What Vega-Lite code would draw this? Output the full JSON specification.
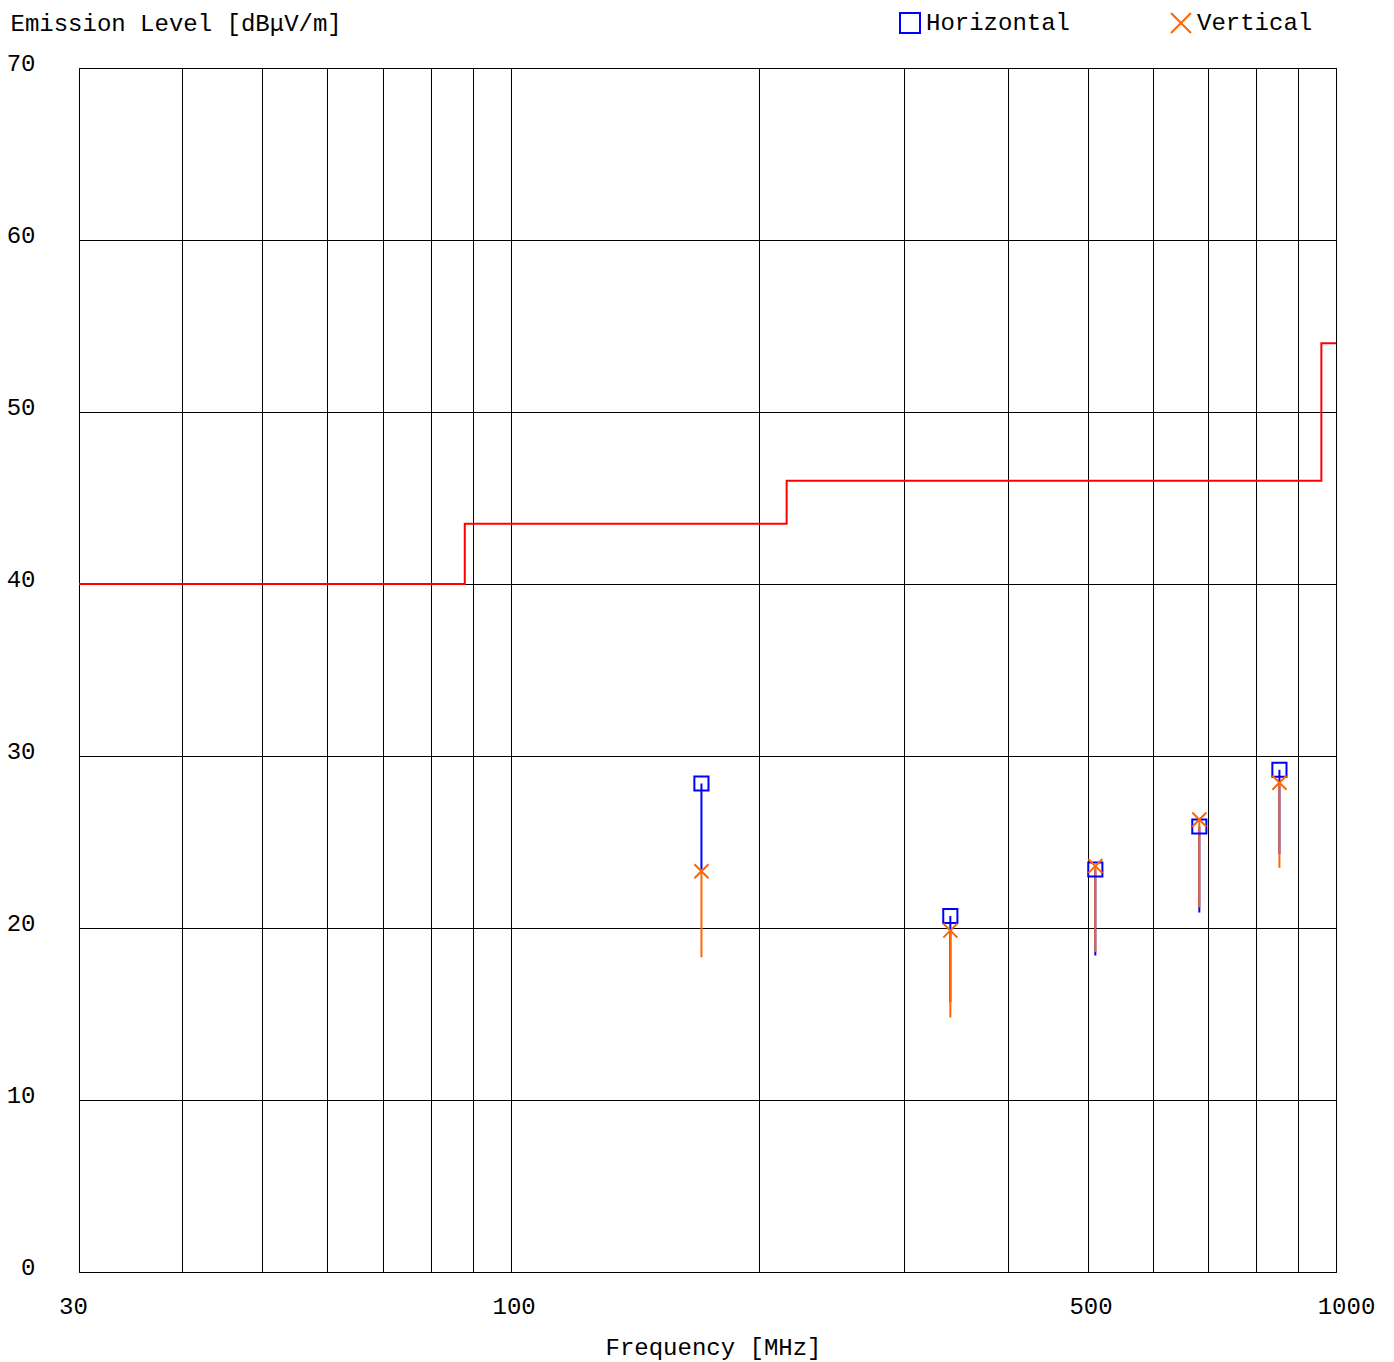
{
  "$schema": "https://vega.github.io/schema/vega-lite/v6.json",
  "width": 1257,
  "height": 1204,
  "autosize": "none",
  "padding": {"left": 79, "top": 68, "right": 58, "bottom": 90},
  "background": "white",
  "config": {
    "font": "Liberation Mono",
    "view": {"stroke": "#000000", "strokeWidth": 1},
    "axis": {"gridColor": "#000000", "gridOpacity": 1, "gridWidth": 1, "ticks": false, "tickSize": 0, "domain": false, "labelColor": "#000000", "titleColor": "#000000", "labelFont": "Liberation Mono", "titleFont": "Liberation Mono", "titleFontWeight": "normal"}
  },
  "datasets": {
    "limit": [
      {"freq": 30, "level": 40},
      {"freq": 88, "level": 43.5},
      {"freq": 216, "level": 46},
      {"freq": 960, "level": 54},
      {"freq": 1000, "level": 54}
    ],
    "meas": [
      {"freq": 170.3, "pol": "Horizontal", "level": 28.4, "low": 23.4},
      {"freq": 341, "pol": "Horizontal", "level": 20.7, "low": 15.7},
      {"freq": 511, "pol": "Horizontal", "level": 23.4, "low": 18.4},
      {"freq": 683, "pol": "Horizontal", "level": 25.9, "low": 20.9},
      {"freq": 854, "pol": "Horizontal", "level": 29.2, "low": 24.3},
      {"freq": 170.3, "pol": "Vertical", "level": 23.3, "low": 18.3},
      {"freq": 341, "pol": "Vertical", "level": 19.85, "low": 14.8},
      {"freq": 511, "pol": "Vertical", "level": 23.6, "low": 18.6},
      {"freq": 683, "pol": "Vertical", "level": 26.3, "low": 21.2},
      {"freq": 854, "pol": "Vertical", "level": 28.45, "low": 23.5}
    ]
  },
  "layer": [
    {
      "data": {"name": "limit"},
      "mark": {"type": "line", "interpolate": "step-after", "color": "#FF0000", "strokeWidth": 2, "clip": true},
      "encoding": {
        "x": {
          "field": "freq", "type": "quantitative",
          "scale": {"type": "log", "domain": [30, 1000], "nice": false},
          "axis": {
            "values": [30, 40, 50, 60, 70, 80, 90, 100, 200, 300, 400, 500, 600, 700, 800, 900, 1000],
            "labelExpr": "indexof([30,100,500,1000], datum.value) >= 0 ? datum.value : ''",
            "labelFontSize": 24, "labelPadding": 22, "labelBaseline": "top", "labelAlign": "center",
            "labelOffset": {"expr": "datum.value == 30 ? -6 : (datum.value == 1000 ? 10 : 3)"},
            "grid": true,
            "title": "Frequency [MHz]", "titleFontSize": 24, "titleX": 634, "titleY": 75, "titleBaseline": "middle", "titleAlign": "center"
          }
        },
        "y": {
          "field": "level", "type": "quantitative",
          "scale": {"domain": [0, 70], "nice": false, "zero": true},
          "axis": {
            "values": [0, 10, 20, 30, 40, 50, 60, 70],
            "labelFontSize": 24, "labelPadding": 44, "labelOffset": -5, "labelAlign": "right", "labelBaseline": "middle",
            "grid": true,
            "title": "Emission Level [dBμV/m]", "titleFontSize": 24, "titleAngle": 0, "titleX": -69, "titleY": -45, "titleAlign": "left", "titleBaseline": "middle"
          }
        }
      }
    },
    {
      "data": {"name": "meas"},
      "mark": {"type": "rule", "strokeWidth": 2},
      "encoding": {
        "x": {"field": "freq", "type": "quantitative"},
        "y": {"field": "level", "type": "quantitative"},
        "y2": {"field": "low"},
        "color": {"field": "pol", "type": "nominal", "scale": {"domain": ["Horizontal", "Vertical"], "range": ["#0000FF", "#FF6600"]}}
      }
    },
    {
      "data": {"name": "meas"},
      "mark": {"type": "point", "filled": false, "strokeWidth": 2, "size": 200, "opacity": 1},
      "encoding": {
        "x": {"field": "freq", "type": "quantitative"},
        "y": {"field": "level", "type": "quantitative"},
        "color": {
          "field": "pol", "type": "nominal",
          "scale": {"domain": ["Horizontal", "Vertical"], "range": ["#0000FF", "#FF6600"]},
          "legend": {
            "orient": "none", "legendX": 819, "legendY": -57, "direction": "horizontal", "title": null,
            "symbolSize": 400, "symbolStrokeWidth": 2, "labelFontSize": 24, "labelFont": "Liberation Mono",
            "columnPadding": 96, "labelOffset": 4, "padding": 0,
            "encode": {"labels": {"update": {"fill": {"signal": "datum.value === 'Horizontal' ? '#0000FF' : '#FF6600'"}}}}
          }
        },
        "shape": {
          "field": "pol", "type": "nominal",
          "scale": {"domain": ["Horizontal", "Vertical"], "range": ["square", "M-1,-1L1,1M1,-1L-1,1"]}
        }
      }
    }
  ]
}
